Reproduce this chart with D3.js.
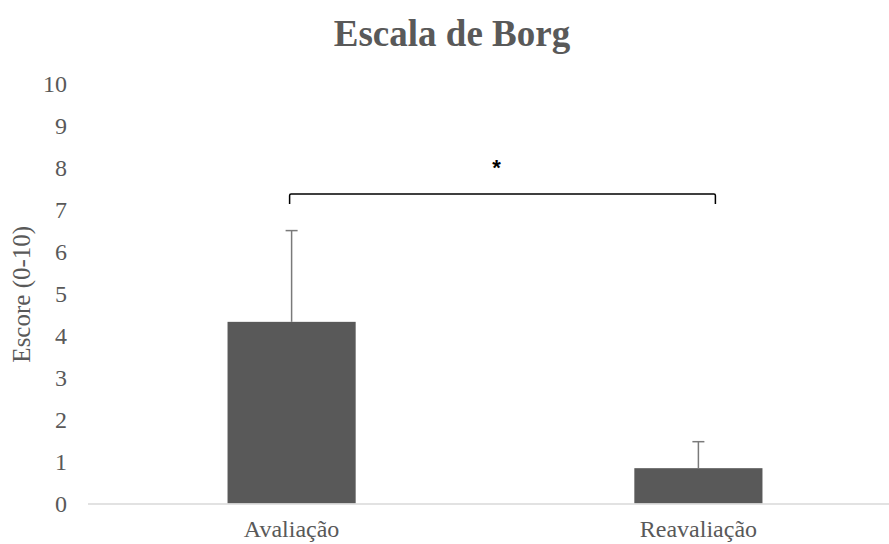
<!DOCTYPE html>
<html>
<head>
<meta charset="utf-8">
<script src="https://cdn.jsdelivr.net/npm/d3@7"></script>
<style>
  html, body { margin: 0; padding: 0; background: #fff; }
  svg { display: block; }
  text { font-family: "Liberation Serif", "Times New Roman", serif; }
</style>
</head>
<body>
<svg id="chart" width="889" height="544"></svg>
<script>
// Borg scale scores, mean ± SD at each assessment
const categories = ["Avaliação", "Reavaliação"];
const means = [4.32, 0.84];
const sds = [2.17, 0.63];
const yTicks = [0, 1, 2, 3, 4, 5, 6, 7, 8, 9, 10];
const significance = { from: "Avaliação", to: "Reavaliação", level: 7.36, label: "*" };

const W = 889, H = 544;
const svg = d3.select("#chart");

const x = d3.scaleBand()
  .domain(categories)
  .range([88, 902])
  .paddingInner(0.685)
  .paddingOuter(0.343);

const y = d3.scaleLinear()
  .domain([0, 10])
  .range([503.5, 83]);

const textColor = "#595959";

// Title
svg.append("text")
  .attr("x", 452)
  .attr("y", 46)
  .attr("text-anchor", "middle")
  .attr("font-size", 37)
  .attr("font-weight", "bold")
  .attr("fill", textColor)
  .text("Escala de Borg");

// Y axis tick labels (no axis line)
const yAxis = d3.axisLeft(y).tickValues(yTicks).tickSize(0).tickPadding(0).tickFormat(d3.format("d"));
const gy = svg.append("g").attr("transform", "translate(67,0)").call(yAxis);
gy.select(".domain").remove();
gy.selectAll("text")
  .attr("font-size", 24)
  .attr("fill", textColor)
  .attr("dy", "0.34em");

// Y axis title
svg.append("text")
  .attr("transform", `translate(30,${(y(0) + y(10)) / 2 + 1}) rotate(-90)`)
  .attr("text-anchor", "middle")
  .attr("font-size", 25)
  .attr("fill", textColor)
  .text("Escore (0-10)");

// Bars
svg.append("g").selectAll("rect")
  .data(categories)
  .join("rect")
  .attr("x", d => x(d))
  .attr("width", x.bandwidth())
  .attr("y", (d, i) => y(means[i]))
  .attr("height", (d, i) => y(0) - y(means[i]))
  .attr("fill", "#595959");

// Error bars (upper only)
const err = svg.append("g").attr("stroke", "#7a7a7a").attr("stroke-width", 1.5);
categories.forEach((c, i) => {
  const cx = x(c) + x.bandwidth() / 2;
  err.append("line")
    .attr("x1", cx).attr("x2", cx)
    .attr("y1", y(means[i])).attr("y2", y(means[i] + sds[i]));
  err.append("line")
    .attr("x1", cx - 6).attr("x2", cx + 6)
    .attr("y1", y(means[i] + sds[i])).attr("y2", y(means[i] + sds[i]));
});

// X axis baseline
svg.append("line")
  .attr("x1", 88).attr("x2", W)
  .attr("y1", y(0) + 0.5).attr("y2", y(0) + 0.5)
  .attr("stroke", "#d9d9d9")
  .attr("stroke-width", 1.5);

// X axis category labels
const xAxis = d3.axisBottom(x).tickSize(0).tickPadding(0);
const gx = svg.append("g").attr("transform", `translate(0,${y(0)})`).call(xAxis);
gx.select(".domain").remove();
gx.selectAll("text")
  .attr("font-size", 24)
  .attr("fill", textColor)
  .attr("dy", 0)
  .attr("y", 33.5);

// Significance bracket
const bx1 = x(significance.from) + x.bandwidth() / 2 - 2;
const bx2 = x(significance.to) + x.bandwidth() / 2 + 17;
const by = y(significance.level);
svg.append("path")
  .attr("d", `M${bx1},${by + 10} L${bx1},${by + 1.5} Q${bx1},${by} ${bx1 + 1.5},${by} L${bx2 - 1.5},${by} Q${bx2},${by} ${bx2},${by + 1.5} L${bx2},${by + 10}`)
  .attr("fill", "none")
  .attr("stroke", "#000")
  .attr("stroke-width", 1.5);

svg.append("text")
  .attr("x", (bx1 + bx2) / 2 - 6)
  .attr("y", by - 19)
  .attr("text-anchor", "middle")
  .attr("font-family", "Liberation Sans, Arial, sans-serif")
  .attr("style", "font-family: 'Liberation Sans', Arial, sans-serif")
  .attr("font-size", 22)
  .attr("font-weight", "bold")
  .attr("fill", "#000")
  .text(significance.label);
</script>
</body>
</html>
